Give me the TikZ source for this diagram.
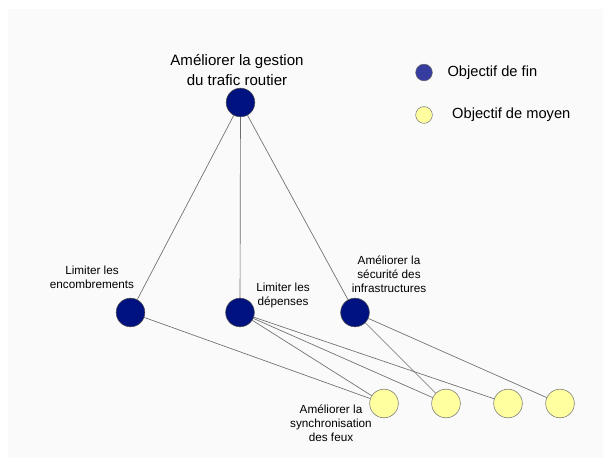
\documentclass[tikz,border=0pt]{standalone}
\usepackage{fontspec}
\setmainfont{Liberation Sans}
\usetikzlibrary{positioning}

\definecolor{finblue}{RGB}{0,18,128}
\definecolor{legblue}{RGB}{55,60,160}
\definecolor{moyyellow}{RGB}{255,255,160}
\definecolor{linegray}{RGB}{110,110,110}
\definecolor{bggray}{RGB}{250,250,250}

\begin{document}
\begin{tikzpicture} [x = 0.75pt, y = -0.75pt,
  fin/.style = {circle, fill = finblue, draw = black!70, line width = 0.4pt, minimum size = 21.5pt, inner sep = 0pt},
  moyen/.style = {circle, fill = moyyellow, draw = black!55, line width = 0.4pt, minimum size = 21.5pt, inner sep = 0pt},
  lbl/.style = {align = center, font = \fontsize{8.8}{10.5}\selectfont, inner sep = 0pt},
  link/.style = {draw = linegray, line width = 0.5pt}]

\useasboundingbox (0,0) rectangle (603,459);
\fill [bggray] (8,9) rectangle (603,458);

\node (top) [fin] at (240.5,102.5) {};
\node (toplbl) [align = center, font = \fontsize{11.3}{15}\selectfont, inner sep = 0pt] at (237,70) {Améliorer la gestion\\du trafic routier};

% objectifs de fin
\node (enc) [fin] at (130.5,312.5) {};
\node (dep) [fin] at (240,312.5) {};
\node (sec) [fin] at (355,312.5) {};

\node (enclbl) [lbl] at (92,277.5) {Limiter les\\encombrements};
\node (deplbl) [lbl] at (283,295) {Limiter les\\dépenses};
\node (seclbl) [lbl] at (389,274) {Améliorer la\\sécurité des\\infrastructures};

% objectifs de moyen
\node (m1) [moyen] at (384,403.5) {};
\node (m2) [moyen] at (446,403.5) {};
\node (m3) [moyen] at (508,403.5) {};
\node (m4) [moyen] at (560,403.5) {};

\node (m1lbl) [lbl] at (331,423.5) {Améliorer la\\synchronisation\\des feux};

% legende
\node (legfin) [circle, fill = legblue, draw = black!60, line width = 0.4pt, minimum size = 12.5pt, inner sep = 0pt] at (424,72.5) {};
\node (legfinlbl) [right = 11pt of legfin, font = \fontsize{11}{12}\selectfont, inner sep = 0pt] {Objectif de fin};
\node (legmoy) [moyen, minimum size = 12.5pt] at (424,115) {};
\node (legmoylbl) [right = 14.5pt of legmoy, font = \fontsize{11}{12}\selectfont, inner sep = 0pt] {Objectif de moyen};

\path [link]
  (top) edge (enc);
\path [link]
  (top) edge (dep);
\path [link]
  (top) edge (sec);

\path [link]
  (enc) edge (m1);
\path [link]
  (dep) edge (m1);
\path [link]
  (dep) edge (m2);
\path [link]
  (dep) edge (m3);
\path [link]
  (sec) edge (m2);
\path [link]
  (sec) edge (m4);

\end{tikzpicture}
\end{document}
